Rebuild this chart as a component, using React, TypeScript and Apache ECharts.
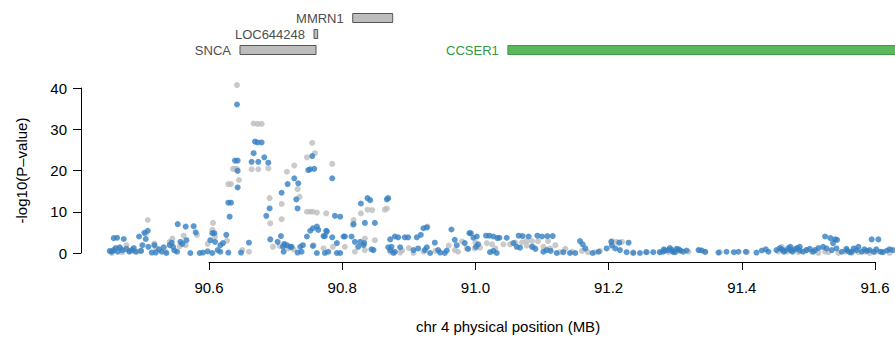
import React, { useEffect, useRef } from "react";
import * as echarts from "echarts";

// Genes shown in the track above the association plot (positions in MB)
const geneNames = ["MMRN1", "LOC644248", "SNCA", "CCSER1"];
const geneStart = [90.8158, 90.7577, 90.6465, 91.0487];
const geneEnd = [90.8758, 90.7632, 90.7607, 92.5231];
const geneRow = [0, 1, 2, 2];
const geneHighlight = [false, false, false, true];
const trackRows = ["row1", "row2", "row3"];

// x-axis tick labels (MB)
const xTicks = [90.6, 90.8, 91.0, 91.2, 91.4, 91.6];
const yTicks = [0, 10, 20, 30, 40];

// Conditional analysis (grey) : [position MB, -log10 P]
const greySnps: number[][] = [
  [90.454, 0], [90.467, 1.0], [90.476, 1.9], [90.481, 0.3], [90.488, 0.5], [90.493, 0.3],
  [90.497, 0.6], [90.505, 4.6], [90.508, 8.0], [90.518, 2.3], [90.541, 2.7], [90.545, 3.5],
  [90.556, 1.6], [90.565, 1.9], [90.582, 4.4], [90.606, 7.3], [90.605, 5.6], [90.609, 4.0],
  [90.627, 3.0], [90.629, 16.7], [90.633, 16.7], [90.642, 40.7], [90.642, 20.4], [90.645, 17.7],
  [90.636, 20.4], [90.639, 20.4], [90.650, 0.7], [90.660, 0.3], [90.667, 31.4], [90.673, 31.3],
  [90.679, 31.3], [90.664, 20.3], [90.674, 20.3], [90.689, 20.5], [90.691, 13.3], [90.692, 7.2],
  [90.709, 8.2], [90.709, 11.9], [90.717, 19.7], [90.728, 21.2], [90.733, 15.5], [90.736, 13.6],
  [90.706, 1.7], [90.719, 1.1], [90.696, 1.5], [90.713, 1.9], [90.727, 0.9], [90.755, 26.7],
  [90.759, 24.2], [90.747, 23.2], [90.785, 21.6], [90.747, 10.0], [90.752, 10.0], [90.756, 10.0],
  [90.762, 9.8], [90.776, 9.6], [90.817, 8.0], [90.816, 6.8], [90.828, 9.6], [90.838, 10.5],
  [90.845, 10.4], [90.864, 10.5], [90.867, 10.8], [90.849, 3.1], [90.834, 3.5], [90.757, 1.9],
  [90.772, 1.1], [90.786, 1.5], [90.804, 1.5], [90.819, 0.3], [90.834, 0.7], [90.872, 0.3],
  [90.887, 0.1], [90.907, 0], [90.922, 0.3], [90.928, 6.4], [90.969, 0.7], [90.974, 0.3],
  [90.987, 1.1], [90.999, 1.1], [91.007, 1.3], [91.017, 2.4], [91.025, 2.1], [91.030, 1.1],
  [91.042, 2.1], [91.052, 2.1], [91.077, 2.9], [91.085, 2.9], [91.094, 2.9], [91.109, 2.9],
  [91.077, 1.8], [91.087, 1.5], [91.102, 1.5], [91.112, 1.1], [91.120, 1.9], [91.127, 0.2],
  [91.169, 0.2], [91.187, 0.5], [91.205, 2.9], [91.212, 2.7], [91.220, 2.7], [91.237, 0.2],
  [91.256, 0.2], [91.277, 0.2], [91.297, 0.2], [91.307, 0.5], [91.337, 0.7], [91.367, 0.2],
  [91.408, 0.2], [91.460, 1.5], [91.477, 0.7], [91.497, 0.7], [91.515, 0], [91.525, 0.3],
  [91.545, 0], [91.565, 0], [91.592, 0], [91.622, 0], [90.562, 4.2], [90.598, 2.2],
  [91.455, 0.4], [91.468, 0.3], [91.485, 0.2], [91.505, 0.3], [91.530, 0.2], [91.555, 0.3],
  [91.575, 0.2], [91.585, 0.3], [91.600, 0.2], [91.610, 0.3], [91.320, 0.3], [91.345, 0.2],
  [91.290, 0.2], [90.960, 1.8], [90.980, 2.8], [91.000, 2.5], [91.060, 2.5], [91.070, 2.6],
  [91.135, 1.0], [91.145, 0.3], [91.160, 0.5], [91.180, 0.2], [90.890, 0.6], [90.900, 1.2],
  [90.940, 0.5], [90.520, 1.2], [90.535, 0.3], [90.470, 0.2],
];

// Single-SNP analysis (blue) : [position MB, -log10 P]
const blueSnps: number[][] = [
  [90.457, 3.6], [90.462, 3.7], [90.472, 3.4], [90.454, 0.3], [90.457, 0.7], [90.460, 1.2],
  [90.451, 0.5], [90.470, 0.7], [90.476, 1.0], [90.484, 0.7], [90.490, 0.3], [90.495, 4.0],
  [90.500, 1.9], [90.505, 3.4], [90.508, 5.4], [90.503, 4.9], [90.509, 1.5], [90.514, 0.1],
  [90.518, 1.9], [90.520, 0.1], [90.529, 0.3], [90.536, 0], [90.541, 1.9], [90.544, 2.5],
  [90.546, 1.5], [90.552, 0.3], [90.553, 7.0], [90.557, 2.7], [90.560, 2.2], [90.565, 6.4],
  [90.566, 3.1], [90.572, 0], [90.577, 6.5], [90.580, 5.0], [90.586, 0.0], [90.591, 0.1],
  [90.602, 3.1], [90.605, 4.8], [90.608, 4.8], [90.609, 2.7], [90.605, 0], [90.613, 0.7],
  [90.617, 1.9], [90.621, 2.4], [90.626, 4.4], [90.629, 0.1], [90.631, 8.8], [90.629, 12.2],
  [90.633, 12.2], [90.639, 22.4], [90.643, 22.4], [90.643, 19.9], [90.643, 15.9], [90.642, 36.0],
  [90.648, 0.1], [90.660, 2.5], [90.664, 22.1], [90.667, 24.2], [90.669, 27.0], [90.673, 26.8],
  [90.679, 26.8], [90.674, 22.1], [90.683, 23.2], [90.689, 21.9], [90.686, 9.0], [90.691, 10.8],
  [90.692, 3.3], [90.703, 2.7], [90.708, 4.1], [90.713, 2.2], [90.712, 0.3], [90.709, 14.6],
  [90.718, 16.7], [90.728, 18.1], [90.734, 16.9], [90.731, 13.0], [90.733, 10.8], [90.733, 0.1],
  [90.711, 1.5], [90.717, 1.9], [90.722, 1.5], [90.724, 1.5], [90.737, 1.5], [90.739, 0.3],
  [90.741, 1.9], [90.747, 4.0], [90.752, 5.4], [90.756, 6.0], [90.762, 6.4], [90.764, 5.6],
  [90.772, 4.1], [90.776, 5.4], [90.777, 5.2], [90.774, 4.1], [90.785, 3.8], [90.749, 20.1],
  [90.752, 20.3], [90.758, 20.4], [90.755, 23.5], [90.785, 18.1], [90.789, 9.0], [90.797, 8.8],
  [90.756, 1.7], [90.762, 0], [90.774, 0], [90.779, 0.3], [90.792, 0], [90.792, 2.4],
  [90.797, 0], [90.802, 4.0], [90.804, 4.0], [90.814, 4.0], [90.819, 2.7], [90.827, 2.7],
  [90.833, 2.4], [90.817, 7.0], [90.828, 12.0], [90.838, 13.3], [90.842, 12.8], [90.834, 7.3],
  [90.849, 7.3], [90.867, 13.0], [90.869, 13.3], [90.872, 3.3], [90.879, 4.0], [90.884, 3.8],
  [90.894, 3.8], [90.899, 3.8], [90.912, 3.8], [90.918, 4.4], [90.922, 6.0], [90.927, 6.2],
  [90.824, 1.5], [90.832, 1.9], [90.844, 0.9], [90.847, 0.7], [90.869, 1.4], [90.874, 1.5],
  [90.879, 0.3], [90.887, 1.4], [90.872, 0.7], [90.877, 0], [90.907, 0.7], [90.914, 1.1],
  [90.924, 0.7], [90.927, 1.4], [90.932, 0], [90.939, 2.5], [90.944, 0.7], [90.947, 0.1],
  [90.954, 0], [90.957, 0.6], [90.964, 5.7], [90.969, 3.2], [90.972, 1.9], [90.984, 2.4],
  [90.991, 4.8], [90.993, 4.8], [90.997, 3.7], [91.002, 4.0], [91.016, 4.2], [91.021, 4.2],
  [91.027, 4.0], [91.033, 3.6], [91.036, 3.7], [91.047, 3.7], [91.065, 4.2], [91.071, 4.1],
  [91.080, 4.0], [91.093, 4.2], [91.100, 4.0], [91.108, 4.1], [91.116, 4.1], [90.989, 1.0],
  [91.001, 1.5], [91.004, 2.1], [91.022, 0.2], [91.027, 0.5], [91.032, 0], [91.057, 2.4],
  [91.062, 1.5], [91.067, 1.3], [91.085, 1.5], [91.090, 1.0], [91.102, 0.3], [91.107, 0.7],
  [91.113, 0.5], [91.122, 0], [91.132, 0.2], [91.142, 0], [91.150, 0], [91.157, 2.9],
  [91.161, 2.1], [91.165, 1.1], [91.176, 0], [91.185, 0.3], [91.197, 1.1], [91.205, 1.8],
  [91.210, 1.1], [91.217, 0.7], [91.204, 2.7], [91.216, 2.5], [91.230, 2.5], [91.227, 0.2],
  [91.237, 0], [91.247, 0], [91.257, 0.2], [91.267, 0.2], [91.277, 0.2], [91.285, 0.6],
  [91.295, 0.7], [91.302, 1.0], [91.282, 0.3], [91.290, 0.7], [91.297, 0.3], [91.305, 0.9],
  [91.312, 0.3], [91.317, 0.6], [91.335, 0.7], [91.340, 0.6], [91.345, 0.3], [91.365, 0.1],
  [91.377, 0.3], [91.388, 0.2], [91.395, 0.3], [91.406, 0.3], [91.422, 0.1], [91.430, 0.6],
  [91.436, 0.9], [91.440, 0.3], [91.452, 0.7], [91.460, 0.9], [91.465, 0.6], [91.473, 0.7],
  [91.473, 1.5], [91.480, 0.9], [91.487, 0.6], [91.487, 1.5], [91.497, 0.7], [91.507, 0.3],
  [91.515, 1.2], [91.525, 4.0], [91.533, 3.6], [91.540, 3.3], [91.543, 3.2], [91.537, 2.4],
  [91.522, 1.5], [91.527, 1.1], [91.535, 0.7], [91.542, 1.1], [91.550, 0.3], [91.557, 1.0],
  [91.565, 0.3], [91.572, 0.7], [91.575, 1.5], [91.580, 0.3], [91.588, 0.5], [91.598, 0.3],
  [91.608, 0.3], [91.618, 0.6], [91.627, 0.7], [91.595, 3.3], [91.605, 3.3],
  [91.283, 0.9], [91.292, 1.2], [91.300, 0.2], [91.308, 0.6], [91.457, 1.2], [91.463, 0.3],
  [91.470, 1.2], [91.476, 0.3], [91.483, 1.2], [91.492, 0.3], [91.502, 1.0], [91.510, 0.7],
  [91.558, 0.6], [91.562, 0.2], [91.568, 1.1], [91.584, 0.9], [91.592, 0.7], [91.602, 0.9],
  [91.612, 0.2], [91.622, 0.9], [90.463, 0.3], [90.466, 1.4], [90.480, 0.4], [90.487, 1.2],
  [90.498, 0.5], [90.525, 0.9], [90.532, 1.4], [90.548, 0.6], [90.598, 0.4], [90.617, 0.3],
];

const X_MIN = 90.4078;
const X_MAX = 91.63;
const BLUE = "#3580c2";
const GREY = "#bdbdbd";
const AXIS_FONT = "'Liberation Sans', Arial, Helvetica, sans-serif";

export default function App() {
  const ref = useRef<HTMLDivElement>(null);

  useEffect(() => {
    if (!ref.current) return;
    const chart = echarts.init(ref.current, null, { renderer: "svg" });

    const geneData = geneNames.map((name, i) => ({
      value: [geneStart[i], geneEnd[i], geneRow[i]],
      name,
    }));

    chart.setOption({
      animation: false,
      backgroundColor: "#ffffff",
      grid: [
        // scatter area
        { left: 81, right: 0, top: 88, height: 165 },
        // R-style x axis spanning the labelled range only
        { left: 209, width: 666, top: 88, height: 174 },
        // gene track
        { left: 81, right: 0, top: 10, height: 48 },
      ],
      xAxis: [
        { gridIndex: 0, type: "value", min: X_MIN, max: X_MAX, show: false },
        {
          gridIndex: 1,
          type: "value",
          min: 90.6,
          max: 91.6,
          interval: 0.2,
          axisLine: { show: true, lineStyle: { color: "#000", width: 1 } },
          axisTick: { show: true, length: 8, lineStyle: { color: "#000" } },
          axisLabel: {
            margin: 18,
            fontSize: 15,
            color: "#000",
            fontFamily: AXIS_FONT,
            formatter: (v: number) => (xTicks.some((t) => Math.abs(t - v) < 1e-6) ? v.toFixed(1) : ""),
          },
          splitLine: { show: false },
        },
        { gridIndex: 2, type: "value", min: X_MIN, max: X_MAX, show: false },
      ],
      yAxis: [
        {
          gridIndex: 0,
          type: "value",
          min: 0,
          max: 40,
          interval: 10,
          name: "-log10(P\u2013value)",
          nameLocation: "middle",
          nameGap: 52,
          nameTextStyle: { fontSize: 15, color: "#000", fontFamily: AXIS_FONT },
          axisLine: { show: true, lineStyle: { color: "#000", width: 1 } },
          axisTick: { show: true, length: 8, lineStyle: { color: "#000" } },
          axisLabel: {
            margin: 14,
            fontSize: 15,
            color: "#000",
            fontFamily: AXIS_FONT,
            formatter: (v: number) => (yTicks.includes(v) ? String(v) : ""),
          },
          splitLine: { show: false },
        },
        { gridIndex: 1, type: "value", min: 0, max: 1, show: false },
        { gridIndex: 2, type: "category", data: trackRows, inverse: true, show: false },
      ],
      graphic: [
        {
          type: "text",
          x: 508,
          y: 326,
          style: {
            text: "chr 4 physical position (MB)",
            fontSize: 15,
            fontFamily: AXIS_FONT,
            fill: "#000",
            textAlign: "center",
            textVerticalAlign: "middle",
          },
        },
      ],
      series: [
        {
          type: "scatter",
          xAxisIndex: 0,
          yAxisIndex: 0,
          data: greySnps,
          symbolSize: 6,
          clip: false,
          itemStyle: { color: GREY },
          silent: true,
        },
        {
          type: "scatter",
          xAxisIndex: 0,
          yAxisIndex: 0,
          data: blueSnps,
          symbolSize: 6,
          clip: false,
          itemStyle: { color: BLUE },
          silent: true,
        },
        {
          type: "custom",
          xAxisIndex: 2,
          yAxisIndex: 2,
          data: geneData,
          clip: false,
          renderItem: (params: any, api: any) => {
            const idx = params.dataIndex;
            const rowIdx = api.value(2);
            const start = api.coord([api.value(0), rowIdx]);
            const end = api.coord([api.value(1), rowIdx]);
            const cs = params.coordSys;
            const x0 = start[0];
            const x1 = Math.min(end[0], cs.x + cs.width + 2);
            const h = 9;
            const hl = geneHighlight[idx];
            return {
              type: "group",
              children: [
                {
                  type: "rect",
                  shape: { x: x0, y: start[1] - h / 2, width: Math.max(x1 - x0, 3), height: h },
                  style: {
                    fill: hl ? "#5cb85c" : "#bdbdbd",
                    stroke: hl ? "#3e9a45" : "#555555",
                    lineWidth: 1,
                  },
                },
                {
                  type: "text",
                  x: x0 - 9,
                  y: start[1],
                  style: {
                    text: geneNames[idx],
                    fontSize: 13,
                    fontFamily: AXIS_FONT,
                    fill: hl ? "#2e9a44" : "#4d4d4d",
                    textAlign: "right",
                    textVerticalAlign: "middle",
                  },
                },
              ],
            };
          },
        },
      ],
    });

    return () => chart.dispose();
  }, []);

  return (
    <div
      ref={ref}
      style={{ position: "fixed", left: 0, top: 0, width: 895, height: 337, background: "#fff" }}
    />
  );
}
